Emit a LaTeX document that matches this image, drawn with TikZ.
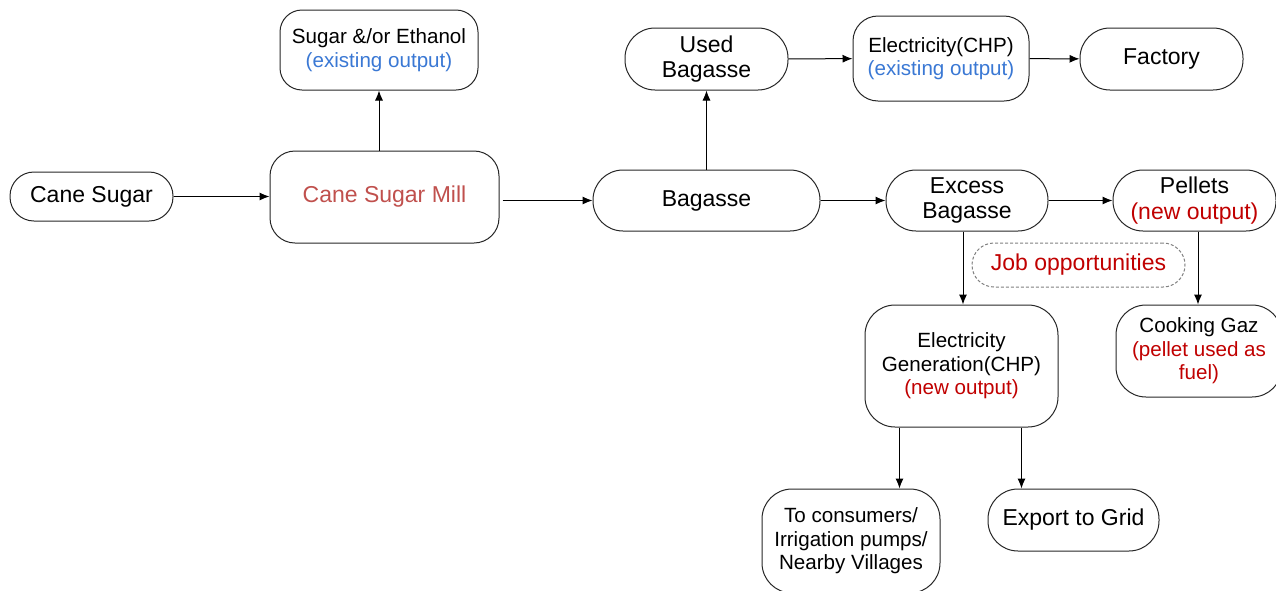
\documentclass[tikz,border=0pt]{standalone}
\usepackage{fontspec}
\setmainfont{Liberation Sans}
\usetikzlibrary{arrows.meta}

\definecolor{millred}{HTML}{C0504D}
\definecolor{oldblue}{HTML}{3A78D4}
\definecolor{newred}{HTML}{C00000}

\begin{document}
\begin{tikzpicture}[x=0.5pt, y=-0.5pt, ->, >={Latex[length=5pt,width=4pt]}, line width=0.5pt]
\tikzstyle{box}=[draw=black!85, align=center, inner sep=0pt, rounded corners=12.5pt, font=\fontsize{11.5}{12.8}\selectfont]
\tikzstyle{pill}=[box, rounded corners=15pt]
\tikzstyle{small}=[font=\fontsize{10.3}{11.75}\selectfont]

\useasboundingbox (0,0) rectangle (1276,590);

\node[box, minimum width=81.5pt, minimum height=24.5pt, rounded corners=12pt] (cane) at (91.5,196.5) {Cane Sugar};
\node[box, minimum width=114.5pt, minimum height=46pt, text=millred] (mill) at (384.5,197) {Cane Sugar Mill};
\node[box, small, minimum width=99pt, minimum height=40pt, rounded corners=11pt] (sugar) at (379,50) {Sugar \&/or Ethanol\\\textcolor{oldblue}{(existing output)}};
\node[pill, minimum width=113.5pt, minimum height=30.5pt] (bagasse) at (706.5,200.5) {Bagasse};
\node[pill, minimum width=81.5pt, minimum height=31pt] (used) at (706.5,59) {Used\\Bagasse};
\node[box, small, minimum width=88pt, minimum height=42.5pt] (elec) at (941,58.5) {Electricity(CHP)\\\textcolor{oldblue}{(existing output)}};
\node[pill, minimum width=81.5pt, minimum height=31pt] (factory) at (1161.5,59) {Factory};
\node[pill, minimum width=81pt, minimum height=30.5pt] (excess) at (967,200.5) {Excess\\Bagasse};
\node[pill, minimum width=81.5pt, minimum height=30.5pt] (pellets) at (1194.5,200.5) {Pellets\\\textcolor{newred}{(new output)}};
\node[box, dashed, dash pattern=on 1.5pt off 1pt, draw=gray, minimum width=106.5pt, minimum height=22pt, rounded corners=11pt, text=newred] (job) at (1078.5,265) {Job opportunities};
\node[pill, small, minimum width=96.5pt, minimum height=61pt] (gen) at (961.5,366) {Electricity\\Generation(CHP)\\\textcolor{newred}{(new output)}};
\node[pill, small, minimum width=83pt, minimum height=46pt] (cook) at (1199,351) {Cooking Gaz\\\textcolor{newred}{(pellet used as}\\\textcolor{newred}{fuel)}};
\node[pill, small, minimum width=89pt, minimum height=52pt] (cons) at (851,541) {To consumers/\\Irrigation pumps/\\Nearby Villages};
\node[pill, minimum width=85.5pt, minimum height=31pt] (grid) at (1073.5,520) {Export to Grid};

\draw (cane) -- (cane -| mill.west);
\draw (mill.north -| sugar) -- (sugar);
\draw ([xshift=1.5pt]mill.east |- bagasse) -- (bagasse);
\draw (bagasse) -- (used);
\draw (used) -- (elec);
\draw (elec) -- (factory);
\draw (bagasse) -- (excess);
\draw (excess) -- (pellets);
\draw ([xshift=-2pt]excess.south) -- ([xshift=-2pt]excess.south |- gen.north);
\draw ([xshift=1.75pt]pellets.south) -- ([xshift=1.75pt]pellets.south |- cook.north);
\draw ([xshift=-31pt]gen.south) -- ([xshift=-31pt]gen.south |- cons.north);
\draw ([xshift=30pt]gen.south) -- ([xshift=30pt]gen.south |- grid.north);

\end{tikzpicture}
\end{document}
